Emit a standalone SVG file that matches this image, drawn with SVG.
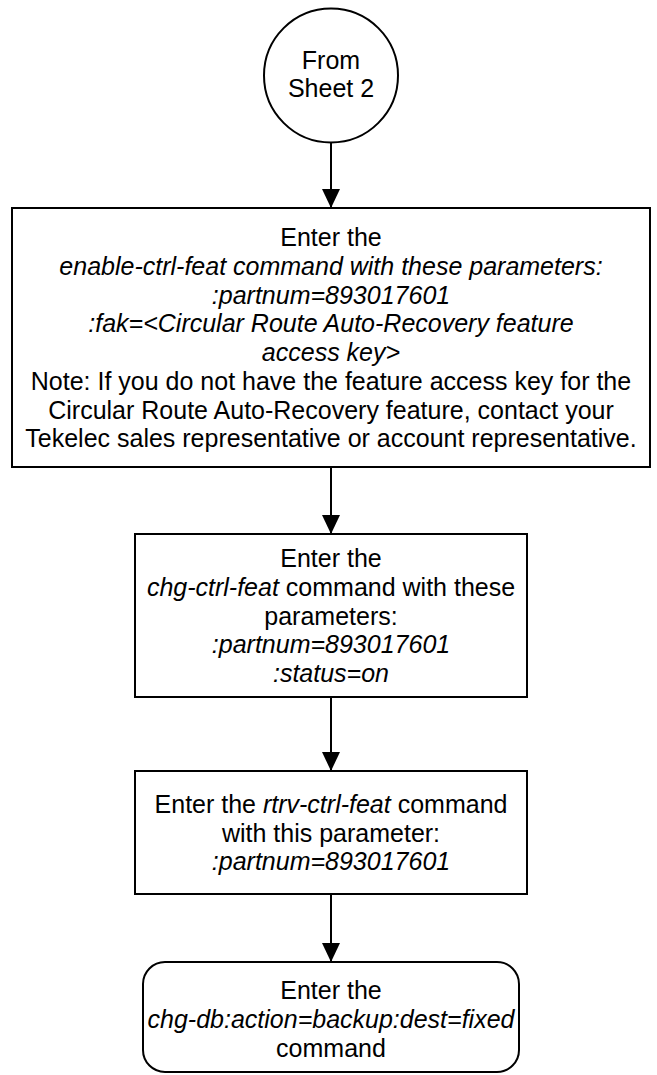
<svg xmlns="http://www.w3.org/2000/svg" width="657" height="1075" viewBox="0 0 657 1075">
<defs>
<marker id="arr" markerUnits="userSpaceOnUse" markerWidth="20" markerHeight="20" viewBox="0 0 20 20" refX="19" refY="10" orient="auto">
<path d="M0,1 L19,10 L0,19 Z" fill="#000"/>
</marker>
<style>
.shape{fill:#fff;stroke:#000;stroke-width:2}
.t{font-family:"Liberation Sans",Arial,sans-serif;font-size:25px;fill:#000;text-anchor:middle}
.i{font-style:italic}
.c{stroke:#000;stroke-width:2;fill:none;marker-end:url(#arr)}
</style>
</defs>
<rect width="657" height="1075" fill="#fff"/>
<g id="connectors">
<line class="c" x1="331" y1="142" x2="331" y2="208"/>
<line class="c" x1="331" y1="467" x2="331" y2="534"/>
<line class="c" x1="331" y1="697" x2="331" y2="771"/>
<line class="c" x1="331" y1="894" x2="331" y2="962"/>
</g>
<g id="start">
<circle class="shape" cx="331" cy="75.5" r="67"/>
<text class="t" x="331" y="69">From</text>
<text class="t" x="331" y="97">Sheet 2</text>
</g>
<g id="enable">
<rect class="shape" x="12" y="208" width="638" height="259"/>
<text class="t" x="331" y="246">Enter the</text>
<text class="t i" x="331" y="274.75">enable-ctrl-feat command with these parameters:</text>
<text class="t i" x="331" y="303.5">:partnum=893017601</text>
<text class="t i" x="331" y="332.25">:fak=&lt;Circular Route Auto-Recovery feature</text>
<text class="t i" x="331" y="361">access key&gt;</text>
<text class="t" x="331" y="389.75">Note: If you do not have the feature access key for the</text>
<text class="t" x="331" y="418.5">Circular Route Auto-Recovery feature, contact your</text>
<text class="t" x="331" y="447.25">Tekelec sales representative or account representative.</text>
</g>
<g id="chg">
<rect class="shape" x="135" y="534" width="392" height="163"/>
<text class="t" x="331" y="567">Enter the</text>
<text class="t" x="331" y="595.75"><tspan class="i">chg-ctrl-feat</tspan> command with these</text>
<text class="t" x="331" y="624.5">parameters:</text>
<text class="t i" x="331" y="653.25">:partnum=893017601</text>
<text class="t i" x="331" y="682">:status=on</text>
</g>
<g id="rtrv">
<rect class="shape" x="135" y="771" width="392" height="123"/>
<text class="t" x="331" y="812.7">Enter the <tspan class="i">rtrv-ctrl-feat</tspan> command</text>
<text class="t" x="331" y="841.5">with this parameter:</text>
<text class="t i" x="331" y="870.2">:partnum=893017601</text>
</g>
<g id="backup">
<rect class="shape" x="143" y="962" width="376" height="110" rx="22" ry="22"/>
<text class="t" x="331" y="999">Enter the</text>
<text class="t i" x="331" y="1028">chg-db:action=backup:dest=fixed</text>
<text class="t" x="331" y="1057">command</text>
</g>
</svg>
